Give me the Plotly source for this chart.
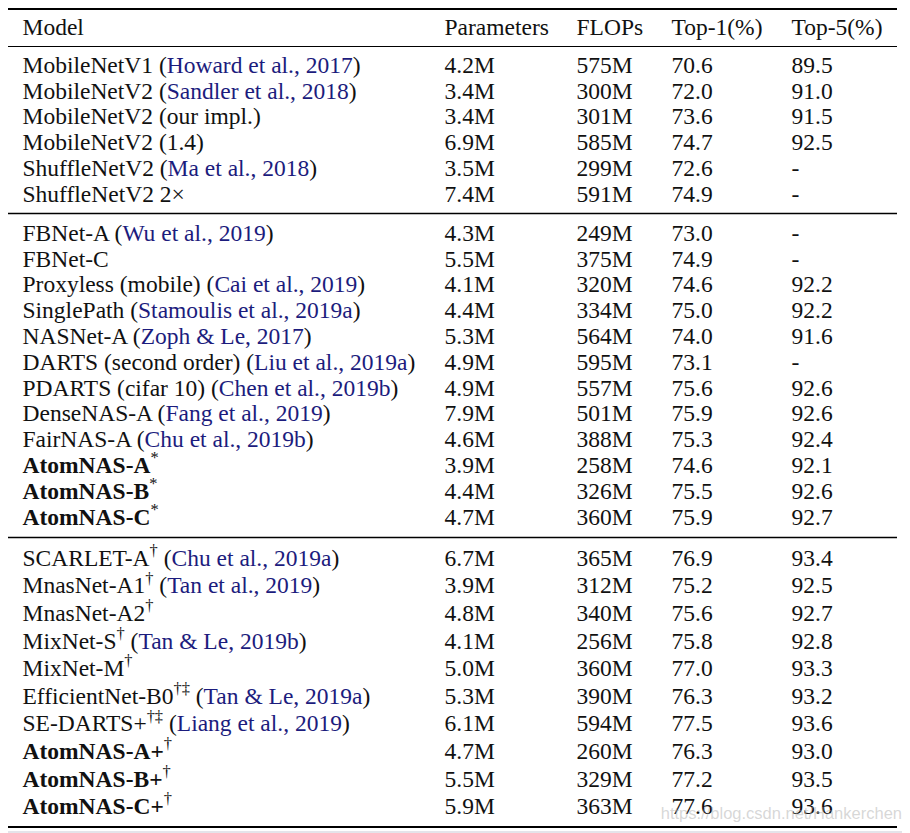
import plotly.graph_objects as go

headers = ["Model", "Parameters", "FLOPs", "Top-1(%)", "Top-5(%)"]

models = ["MobileNetV1", "MobileNetV2", "MobileNetV2 (our impl.)", "MobileNetV2 (1.4)",
          "ShuffleNetV2", "ShuffleNetV2 2×",
          "FBNet-A", "FBNet-C", "Proxyless (mobile)", "SinglePath", "NASNet-A",
          "DARTS (second order)", "PDARTS (cifar 10)", "DenseNAS-A", "FairNAS-A",
          "AtomNAS-A", "AtomNAS-B", "AtomNAS-C",
          "SCARLET-A", "MnasNet-A1", "MnasNet-A2", "MixNet-S", "MixNet-M",
          "EfficientNet-B0", "SE-DARTS+", "AtomNAS-A+", "AtomNAS-B+", "AtomNAS-C+"]
marks = [""] * 15 + ["*", "*", "*"] + ["†", "†", "†", "†", "†", "†‡", "†‡", "†", "†", "†"]
citations = ["Howard et al., 2017", "Sandler et al., 2018", "", "", "Ma et al., 2018", "",
             "Wu et al., 2019", "", "Cai et al., 2019", "Stamoulis et al., 2019a",
             "Zoph & Le, 2017", "Liu et al., 2019a", "Chen et al., 2019b",
             "Fang et al., 2019", "Chu et al., 2019b", "", "", "",
             "Chu et al., 2019a", "Tan et al., 2019", "", "Tan & Le, 2019b", "",
             "Tan & Le, 2019a", "Liang et al., 2019", "", "", ""]
bold = [False] * 15 + [True] * 3 + [False] * 7 + [True] * 3
params = ["4.2M", "3.4M", "3.4M", "6.9M", "3.5M", "7.4M",
          "4.3M", "5.5M", "4.1M", "4.4M", "5.3M", "4.9M", "4.9M", "7.9M", "4.6M",
          "3.9M", "4.4M", "4.7M",
          "6.7M", "3.9M", "4.8M", "4.1M", "5.0M", "5.3M", "6.1M", "4.7M", "5.5M", "5.9M"]
flops = ["575M", "300M", "301M", "585M", "299M", "591M",
         "249M", "375M", "320M", "334M", "564M", "595M", "557M", "501M", "388M",
         "258M", "326M", "360M",
         "365M", "312M", "340M", "256M", "360M", "390M", "594M", "260M", "329M", "363M"]
top1 = ["70.6", "72.0", "73.6", "74.7", "72.6", "74.9",
        "73.0", "74.9", "74.6", "75.0", "74.0", "73.1", "75.6", "75.9", "75.3",
        "74.6", "75.5", "75.9",
        "76.9", "75.2", "75.6", "75.8", "77.0", "76.3", "77.5", "76.3", "77.2", "77.6"]
top5 = ["89.5", "91.0", "91.5", "92.5", "-", "-",
        "-", "-", "92.2", "92.2", "91.6", "-", "92.6", "92.6", "92.4",
        "92.1", "92.6", "92.7",
        "93.4", "92.5", "92.7", "92.8", "93.3", "93.2", "93.6", "93.0", "93.5", "93.6"]
section = [0] * 6 + [1] * 12 + [2] * 10

# ---- layout (window pixel coordinates on hidden axes) ----
W, H = 910, 833
BODY = 8  # default page margin around the plot div
FONT = "Liberation Serif"
FS = 23.5
CITE = "rgb(28,28,125)"
INK = "#111111"
col_x = [22.5, 444.5, 576.5, 671.5, 791.5]
header_y = 29
sec_start = [67, 235, 560]
sec_pitch = [25.8, 25.8, 27.6]
rules = [(9, 2.2), (46.5, 1.2), (213.5, 1.3), (537.5, 1.3), (827, 2.2)]
rule_x0, rule_x1 = 8, 897

row_y = []
counter = {0: 0, 1: 0, 2: 0}
for s in section:
    row_y.append(sec_start[s] + sec_pitch[s] * counter[s])
    counter[s] += 1


def esc(t):
    return t.replace("&", "&amp;")


labels = []
for m, mk, c, b in zip(models, marks, citations, bold):
    name = esc(m)
    if b:
        name = "<b>" + name + "</b>"
    if mk:
        name += "<sup>" + mk + "</sup>"
    if c:
        name += " (<span style='color:%s'>%s</span>)" % (CITE, esc(c))
    labels.append(name)

fig = go.Figure()
columns = [labels, params, flops, top1, top5]
for ci, vals in enumerate(columns):
    fig.add_trace(go.Scatter(
        x=[col_x[ci]] * (len(vals) + 1),
        y=[header_y] + row_y,
        text=[headers[ci]] + vals,
        mode="text",
        textposition="middle right",
        textfont=dict(family=FONT, size=FS, color=INK),
        hoverinfo="skip",
        showlegend=False,
    ))

for y, w in rules:
    fig.add_shape(type="line", xref="x", yref="y", x0=rule_x0, x1=rule_x1, y0=y, y1=y,
                  line=dict(color="#000000", width=w))

# faint page edge at the very bottom
fig.add_shape(type="line", xref="x", yref="y", x0=BODY, x1=W, y0=832, y1=832,
              line=dict(color="#e4e4ea", width=2))

# watermark
fig.add_trace(go.Scatter(
    x=[902], y=[815], text=["https://blog.csdn.net/Hankerchen"], mode="text",
    textposition="middle left",
    textfont=dict(family="Liberation Sans", size=16.5, color="rgba(175,175,175,0.5)"),
    hoverinfo="skip", showlegend=False,
))

fig.update_layout(
    width=W - BODY, height=H - BODY,
    margin=dict(l=0, r=0, t=0, b=0),
    paper_bgcolor="white", plot_bgcolor="white",
    xaxis=dict(range=[BODY, W], visible=False, fixedrange=True),
    yaxis=dict(range=[H, BODY], visible=False, fixedrange=True),
)

fig.write_html("out.html")
